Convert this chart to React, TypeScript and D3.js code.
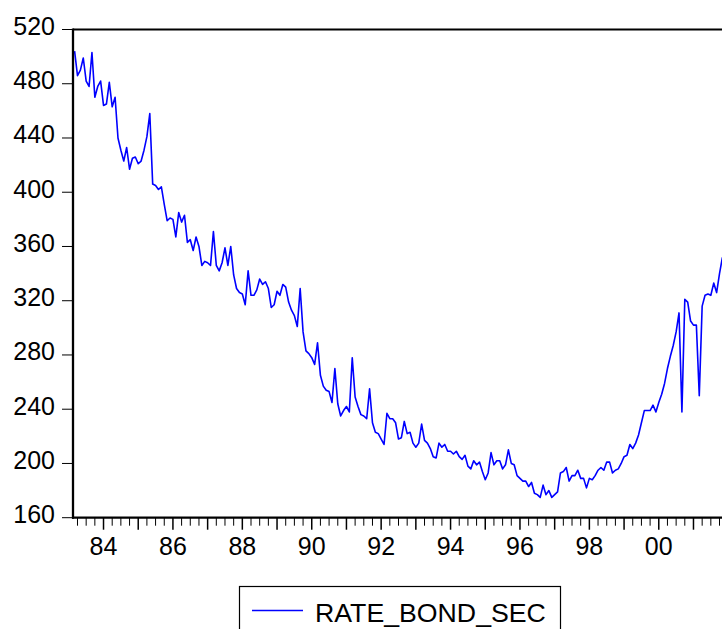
import React from 'react';
import * as d3 from 'd3';

// monthly observations, 1983M03 .. 2001M11
const startYear = 1983;
const startMonth = 3;
const rateBondSec = [
  504, 486, 490, 499, 482, 478, 503, 470, 478, 482, 464, 465, 481, 463, 470, 440, 431, 423, 433, 417,
  425, 426, 421, 423, 431, 441, 458, 406, 405, 402, 404, 391, 379, 381, 380, 367, 385, 378, 383,
  363, 365, 357, 367, 360, 346, 349, 348, 346, 371, 346, 342, 348, 359, 346, 360, 339, 329, 326, 325,
  317, 342, 324, 324, 328, 336, 332, 334, 329, 315, 317, 327, 324, 332, 330, 319, 313,
  309, 301, 329, 297, 283, 281, 278, 273, 289, 265, 257, 254, 253, 245, 270, 244, 235, 239, 242, 238,
  278, 249, 242, 236, 235, 233, 255, 230, 223, 222, 218, 214, 237, 233, 233, 230, 218,
  219, 231, 222, 223, 215, 212, 215, 229, 217, 215, 211, 205, 204, 215, 212, 214, 209, 209, 207, 209,
  205, 203, 206, 198, 196, 202, 199, 201, 194, 188, 193, 208, 199, 202, 202, 196, 199, 210,
  200, 199, 191, 189, 187, 187, 183, 186, 178, 177, 175, 184, 177, 180, 175, 177, 179, 193, 194, 197,
  187, 191, 191, 195, 189, 189, 182, 189, 188, 191, 195, 197, 195, 201, 201, 193, 195,
  196, 200, 205, 206, 214, 211, 215, 221, 230, 239, 239, 239, 243, 238, 245, 251, 259, 270, 279, 287,
  297, 311, 238, 321, 319, 305, 302, 302, 250, 316, 324, 325, 324, 333, 326, 340, 352,
];
const yTicks = [160, 200, 240, 280, 320, 360, 400, 440, 480, 520];
const labelYears = [1984, 1986, 1988, 1990, 1992, 1994, 1996, 1998, 2000];
const seriesName = 'RATE_BOND_SEC';

const W = 722;
const H = 629;
const left = 73;
const top = 29.5;
const bottom = 517.7;
const right = 730;
const font = '"Liberation Sans", Arial, sans-serif';

const monthIndex = (year: number, month: number) => (year - startYear) * 12 + (month - startMonth);

export default function App() {
  const x = d3.scaleLinear().domain([0, rateBondSec.length - 1]).range([74.6, 722.4]);
  const y = d3.scaleLinear().domain([160, 520]).range([bottom, top]);

  const line = d3
    .line<number>()
    .x((_, i) => x(i))
    .y((d) => y(d));

  // quarterly tick marks along the time axis
  const quarterTicks: { i: number; major: boolean }[] = [];
  for (let yr = startYear; yr <= 2002; yr++) {
    [1, 4, 7, 10].forEach((m) => {
      const i = monthIndex(yr, m);
      if (i >= 0 && x(i) <= W) quarterTicks.push({ i, major: m === 1 });
    });
  }

  return (
    <svg
      width={W}
      height={H}
      style={{ position: 'absolute', left: 0, top: 0, background: '#fff' }}
      fontFamily={font}
    >
      <defs>
        <clipPath id="plot">
          <rect x={left} y={top - 2} width={right - left} height={bottom - top + 4} />
        </clipPath>
      </defs>

      <path
        d={line(rateBondSec) || ''}
        fill="none"
        stroke="#0000ff"
        strokeWidth={1.6}
        strokeLinejoin="round"
        clipPath="url(#plot)"
      />

      {/* frame */}
      <line x1={left} x2={right} y1={top} y2={top} stroke="#000" strokeWidth={2.2} />
      <line x1={left} x2={left} y1={top - 1} y2={bottom + 1} stroke="#000" strokeWidth={2.3} />
      <line x1={left - 1} x2={right} y1={bottom} y2={bottom} stroke="#000" strokeWidth={2.3} />

      {/* y axis */}
      {yTicks.map((t) => (
        <g key={t}>
          <line x1={left - 11} x2={left} y1={y(t)} y2={y(t)} stroke="#000" strokeWidth={1} />
          <text x={55} y={y(t) + 5.5} textAnchor="end" fontSize={25} fill="#000">
            {t}
          </text>
        </g>
      ))}

      {/* x axis */}
      {quarterTicks.map(({ i, major }) => (
        <line
          key={i}
          x1={x(i)}
          x2={x(i)}
          y1={bottom}
          y2={bottom + (major ? 12 : 8)}
          stroke="#000"
          strokeWidth={major ? 1.5 : 1}
        />
      ))}
      {labelYears.map((yr) => (
        <text
          key={yr}
          x={x(monthIndex(yr, 1))}
          y={555}
          textAnchor="middle"
          fontSize={25}
          fill="#000"
        >
          {String(yr % 100).padStart(2, '0')}
        </text>
      ))}

      {/* legend */}
      <rect x={239.5} y={586.5} width={321} height={60} fill="none" stroke="#000" strokeWidth={1.2} />
      <line x1={252} x2={303} y1={610.5} y2={610.5} stroke="#0000ff" strokeWidth={1.3} />
      <text x={315} y={621.5} fontSize={26.7} fill="#000">
        {seriesName}
      </text>
    </svg>
  );
}
